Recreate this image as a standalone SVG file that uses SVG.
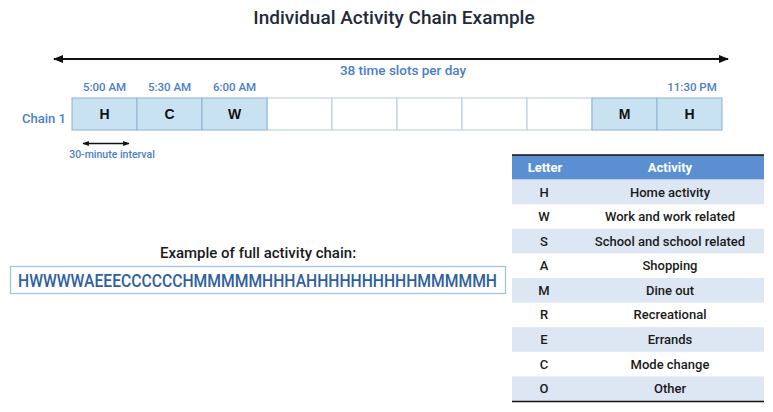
<svg xmlns="http://www.w3.org/2000/svg" width="773" height="412" viewBox="0 0 773 412">
<defs>
<style>
.t{font-family:"Roboto","Liberation Sans",sans-serif;font-weight:500}
.title{font-size:19px;fill:#1f2b3b;text-anchor:middle}
.blue{fill:#4a7ec6}
.time{font-size:11.5px;text-anchor:middle;fill:#4a7ec6}
.cellL{font-family:"Liberation Sans",Arial,sans-serif;font-size:14px;font-weight:bold;text-anchor:middle;fill:#111}
.cell{fill:#c9e2f1;stroke:#8db0d3;stroke-width:1}
.empty{fill:#fff;stroke:#b5c9de;stroke-width:1}
.hdr{font-size:13px;font-weight:bold;fill:#fff;text-anchor:middle}
.row{font-size:13px;fill:#1a1a1a;text-anchor:middle}
.alt{fill:#dde7f3}
</style>
<marker id="ah" viewBox="0 0 10 10" refX="9" refY="5" markerWidth="5" markerHeight="5" orient="auto-start-reverse">
<path d="M0,1 L10,5 L0,9 z" fill="#111"/>
</marker>
</defs>
<rect width="773" height="412" fill="#fff"/>
<text class="t title" x="394" y="24">Individual Activity Chain Example</text>

<g id="connectors">
<line x1="54" y1="59" x2="728" y2="59" stroke="#111" stroke-width="2" marker-start="url(#ah)" marker-end="url(#ah)"/>
<line x1="83" y1="143.5" x2="129" y2="143.5" stroke="#111" stroke-width="1.3" marker-start="url(#ah)" marker-end="url(#ah)"/>
</g>
<text class="t blue" x="403" y="75" font-size="13.5" text-anchor="middle">38 time slots per day</text>

<g id="chain">
<text class="t blue" x="44" y="123" font-size="13" text-anchor="middle">Chain 1</text>
<rect class="empty" x="267" y="98" width="65" height="32"/>
<rect class="empty" x="332" y="98" width="65" height="32"/>
<rect class="empty" x="397" y="98" width="65" height="32"/>
<rect class="empty" x="462" y="98" width="65" height="32"/>
<rect class="empty" x="527" y="98" width="65" height="32"/>
<g id="slot1"><rect class="cell" x="72" y="98" width="65" height="32"/><text class="cellL" x="104.5" y="119">H</text><text class="t time" x="104.5" y="91">5:00 AM</text></g>
<g id="slot2"><rect class="cell" x="137" y="98" width="65" height="32"/><text class="cellL" x="169.5" y="119">C</text><text class="t time" x="169.5" y="91">5:30 AM</text></g>
<g id="slot3"><rect class="cell" x="202" y="98" width="65" height="32"/><text class="cellL" x="234.5" y="119">W</text><text class="t time" x="234.5" y="91">6:00 AM</text></g>
<g id="slot37"><rect class="cell" x="592" y="98" width="65" height="32"/><text class="cellL" x="624.5" y="119">M</text></g>
<g id="slot38"><rect class="cell" x="657" y="98" width="65" height="32"/><text class="cellL" x="689.5" y="119">H</text><text class="t time" x="692" y="91">11:30 PM</text></g>
<text class="t blue" x="112" y="158" font-size="10.5" text-anchor="middle">30-minute interval</text>
</g>

<g id="example">
<text class="t" x="258" y="258" font-size="15" text-anchor="middle" fill="#1a1a1a">Example of full activity chain:</text>
<rect x="10.5" y="266.5" width="495" height="27" fill="#fff" stroke="#9fbfe2" stroke-width="1.2"/>
<text class="t" x="18" y="287" font-size="18" fill="#2f5f9e" textLength="479" lengthAdjust="spacingAndGlyphs">HWWWWAEEECCCCCCHMMMMMHHHAHHHHHHHHHHMMMMMH</text>
</g>

<g id="legend">
<rect x="512" y="155" width="252" height="24.6" fill="#5b8fd2"/>
<rect class="alt" x="512" y="179.6" width="252" height="24.6"/>
<rect class="alt" x="512" y="228.8" width="252" height="24.6"/>
<rect class="alt" x="512" y="278" width="252" height="24.6"/>
<rect class="alt" x="512" y="327.2" width="252" height="24.6"/>
<rect class="alt" x="512" y="376.4" width="252" height="24.6"/>
<line x1="512" y1="155" x2="764" y2="155" stroke="#111" stroke-width="1.5"/>
<line x1="512" y1="401.5" x2="764" y2="401.5" stroke="#111" stroke-width="1.5"/>
<text class="t hdr" x="545" y="172">Letter</text>
<text class="t hdr" x="670" y="172">Activity</text>
<text class="t row" x="544" y="196.5">H</text><text class="t row" x="670" y="196.5">Home activity</text>
<text class="t row" x="544" y="221">W</text><text class="t row" x="670" y="221">Work and work related</text>
<text class="t row" x="544" y="245.6">S</text><text class="t row" x="670" y="245.6">School and school related</text>
<text class="t row" x="544" y="270.2">A</text><text class="t row" x="670" y="270.2">Shopping</text>
<text class="t row" x="544" y="294.8">M</text><text class="t row" x="670" y="294.8">Dine out</text>
<text class="t row" x="544" y="319.4">R</text><text class="t row" x="670" y="319.4">Recreational</text>
<text class="t row" x="544" y="344">E</text><text class="t row" x="670" y="344">Errands</text>
<text class="t row" x="544" y="368.6">C</text><text class="t row" x="670" y="368.6">Mode change</text>
<text class="t row" x="544" y="393.2">O</text><text class="t row" x="670" y="393.2">Other</text>
</g>
</svg>
